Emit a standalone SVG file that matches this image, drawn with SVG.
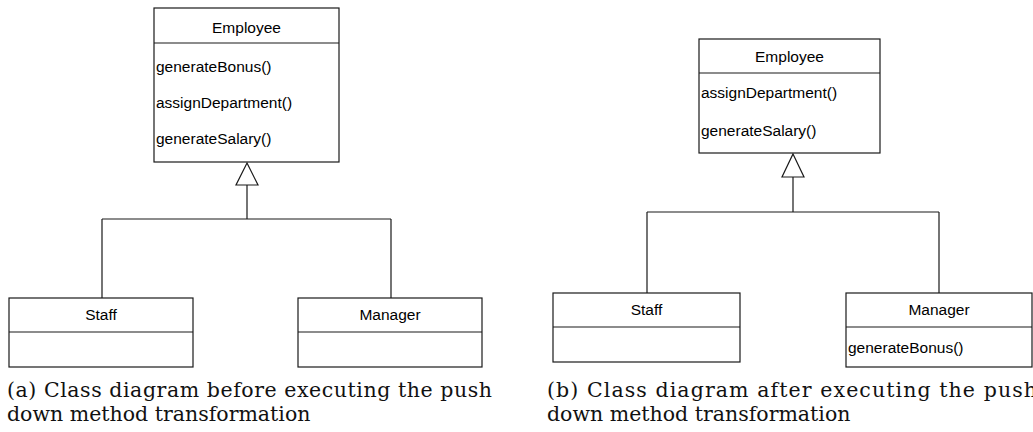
<svg xmlns="http://www.w3.org/2000/svg" width="1033" height="432" viewBox="0 0 1033 432">
  <style>
    .box { fill: #ffffff; stroke: #1a1a1a; stroke-width: 1.2; }
    .div { stroke: #1a1a1a; stroke-width: 1.2; fill: none; }
    .edge { stroke: #1a1a1a; stroke-width: 1.2; fill: none; }
    .head { fill: #ffffff; stroke: #1a1a1a; stroke-width: 1.2; stroke-linejoin: miter; }
    .name { font-family: "Liberation Sans", Arial, sans-serif; font-size: 15.5px; fill: #000; text-anchor: middle; }
    .op { font-family: "Liberation Sans", Arial, sans-serif; font-size: 15.5px; fill: #000; }
    .cap { font-family: "DejaVu Serif", "Liberation Serif", serif; font-size: 20.5px; fill: #111; }
  </style>

  <!-- (a) before push down -->
  <g id="a-connectors">
    <path class="edge" d="M247 185 V219 M102 219 H391 M102 219 V298 M391 219 V298"/>
    <polygon class="head" points="247,163 258,185 236,185"/>
  </g>
  <g id="a-employee">
    <rect class="box" x="154" y="8" width="185" height="154"/>
    <line class="div" x1="154" y1="43" x2="339" y2="43"/>
    <text class="name" x="246.5" y="33">Employee</text>
    <text class="op" x="156" y="72">generateBonus()</text>
    <text class="op" x="156" y="108">assignDepartment()</text>
    <text class="op" x="156" y="144">generateSalary()</text>
  </g>
  <g id="a-staff">
    <rect class="box" x="9" y="298" width="184" height="69"/>
    <line class="div" x1="9" y1="332" x2="193" y2="332"/>
    <text class="name" x="101" y="320">Staff</text>
  </g>
  <g id="a-manager">
    <rect class="box" x="298" y="298" width="184" height="69"/>
    <line class="div" x1="298" y1="332" x2="482" y2="332"/>
    <text class="name" x="390" y="320">Manager</text>
  </g>
  <text class="cap" x="7" y="397" textLength="485" lengthAdjust="spacing">(a) Class diagram before executing the push</text>
  <text class="cap" x="7" y="421">down method transformation</text>

  <!-- (b) after push down -->
  <g id="b-connectors">
    <path class="edge" d="M793 177 V212 M647 212 H939 M647 212 V293 M939 212 V293"/>
    <polygon class="head" points="793,154 804,177 782,177"/>
  </g>
  <g id="b-employee">
    <rect class="box" x="699" y="39" width="181" height="114"/>
    <line class="div" x1="699" y1="73" x2="880" y2="73"/>
    <text class="name" x="789.5" y="62">Employee</text>
    <text class="op" x="701" y="98">assignDepartment()</text>
    <text class="op" x="701" y="136">generateSalary()</text>
  </g>
  <g id="b-staff">
    <rect class="box" x="553" y="293" width="187" height="69"/>
    <line class="div" x1="553" y1="327" x2="740" y2="327"/>
    <text class="name" x="646.5" y="315">Staff</text>
  </g>
  <g id="b-manager">
    <rect class="box" x="846" y="293" width="186" height="74"/>
    <line class="div" x1="846" y1="327" x2="1032" y2="327"/>
    <text class="name" x="939" y="315">Manager</text>
    <text class="op" x="848" y="353">generateBonus()</text>
  </g>
  <text class="cap" x="547" y="397" textLength="490" lengthAdjust="spacing">(b) Class diagram after executing the push</text>
  <text class="cap" x="547" y="421">down method transformation</text>
</svg>
